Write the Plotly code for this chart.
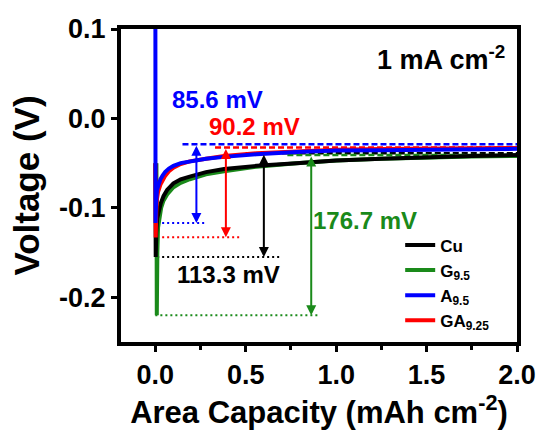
import plotly.graph_objects as go

# ---------------- data ----------------
cu_x = [0, 0.002, 0.005, 0.01, 0.018, 0.03, 0.045, 0.065, 0.1, 0.14, 0.19, 0.28, 0.38, 0.56, 0.78, 1.0, 1.25, 1.5, 1.75, 2.0]
cu_y = [-0.05, -0.155, -0.128, -0.112, -0.103, -0.095, -0.087, -0.080, -0.0726, -0.068, -0.065, -0.060, -0.0566, -0.053, -0.050, -0.047, -0.045, -0.043, -0.042, -0.041]

g_x = [0.006, 0.008, 0.011, 0.015, 0.022, 0.032, 0.045, 0.065, 0.1, 0.14, 0.19, 0.28, 0.38, 0.56, 0.78, 1.0, 1.25, 1.5, 1.75, 2.0]
g_y = [-0.05, -0.220, -0.150, -0.122, -0.109, -0.100, -0.092, -0.085, -0.077, -0.072, -0.068, -0.0625, -0.059, -0.054, -0.050, -0.047, -0.045, -0.0435, -0.0425, -0.042]

ga_x = [0, 0.002, 0.005, 0.009, 0.015, 0.028, 0.04, 0.055, 0.075, 0.1, 0.14, 0.19, 0.28, 0.38, 0.56, 0.78, 1.0, 1.25, 1.5, 1.75, 2.0]
ga_y = [-0.05, -0.133, -0.105, -0.090, -0.082, -0.074, -0.069, -0.064, -0.059, -0.055, -0.051, -0.048, -0.045, -0.042, -0.039, -0.0365, -0.035, -0.0343, -0.0337, -0.0333, -0.033]

a_x = [0, 0.001, 0.004, 0.009, 0.018, 0.028, 0.04, 0.055, 0.075, 0.1, 0.14, 0.19, 0.28, 0.38, 0.56, 0.78, 1.0, 1.25, 1.5, 1.75, 2.0]
a_y = [0.15, -0.117, -0.095, -0.080, -0.073, -0.068, -0.064, -0.0596, -0.056, -0.053, -0.050, -0.048, -0.045, -0.043, -0.040, -0.0375, -0.036, -0.0355, -0.035, -0.0345, -0.034]

series_names = ["Cu", "G<sub>9.5</sub>", "A<sub>9.5</sub>", "GA<sub>9.25</sub>"]
series_colors = ["#000000", "#1a8a1a", "#0000ff", "#ff0000"]

# overpotential markers (order: Cu, G9.5, A9.5, GA9.25)
plateau_v = [-0.039, -0.041, -0.029, -0.0325]
nucleation_v = [-0.155, -0.220, -0.117, -0.133]
dash_start_x = [0.50, 0.73, 0.15, 0.33]
dash_end_x = [2.0, 2.0, 2.0, 2.0]
dot_start_x = [0.01, 0.0, 0.01, 0.01]
dot_end_x = [0.69, 0.90, 0.285, 0.47]
arrow_x = [0.60, 0.862, 0.227, 0.39]
overpotential_labels = ["113.3 mV", "176.7 mV", "85.6 mV", "90.2 mV"]
label_x = [0.403, 1.16, 0.343, 0.547]
label_y = [-0.175, -0.1137, 0.0207, -0.0095]

x_tickvals = [0.0, 0.5, 1.0, 1.5, 2.0]
x_ticktext = ["0.0", "0.5", "1.0", "1.5", "2.0"]
y_tickvals = [0.1, 0.0, -0.1, -0.2]
y_ticktext = ["0.1", "0.0", "-0.1", "-0.2"]

FONT = "Liberation Sans, Arial, sans-serif"

fig = go.Figure()

# reference dashed / dotted lines
for i in range(4):
    fig.add_trace(go.Scatter(x=[dash_start_x[i], dash_end_x[i]], y=[plateau_v[i], plateau_v[i]],
                             mode="lines", line=dict(color=series_colors[i], width=2.5, dash="6px,3px"),
                             showlegend=False, hoverinfo="skip"))
    fig.add_trace(go.Scatter(x=[dot_start_x[i], dot_end_x[i]], y=[nucleation_v[i], nucleation_v[i]],
                             mode="lines", line=dict(color=series_colors[i], width=2, dash="2px,3px"),
                             showlegend=False, hoverinfo="skip"))

curves = [(g_x, g_y, 1), (cu_x, cu_y, 0), (ga_x, ga_y, 3), (a_x, a_y, 2)]
for xs, ys, i in curves:
    fig.add_trace(go.Scatter(x=xs, y=ys, mode="lines", name=series_names[i],
                             line=dict(color=series_colors[i], width=4),
                             legendrank=i + 1))

for i in range(4):
    fig.add_annotation(x=arrow_x[i], y=nucleation_v[i], ax=arrow_x[i], ay=plateau_v[i],
                       xref="x", yref="y", axref="x", ayref="y", text="",
                       showarrow=True, arrowhead=2, startarrowhead=2, arrowside="end+start",
                       arrowsize=1, startarrowsize=1, arrowwidth=2, arrowcolor=series_colors[i])
    fig.add_annotation(x=label_x[i], y=label_y[i], xref="x", yref="y", text=overpotential_labels[i],
                       showarrow=False, font=dict(family=FONT, size=24, color=series_colors[i], weight="bold"))

fig.add_annotation(x=0.975, y=0.907, xref="paper", yref="paper", xanchor="right", yanchor="middle",
                   text="1 mA cm<sup>-2</sup>", showarrow=False,
                   font=dict(family=FONT, size=27, color="black", weight="bold"))

axis_common = dict(showline=True, linewidth=4, linecolor="black", mirror=True, showgrid=False,
                   zeroline=False, ticks="outside", ticklen=6, tickwidth=3, tickcolor="black",
                   automargin=False,
                   tickfont=dict(family=FONT, size=27, color="black", weight="bold"))

fig.update_xaxes(range=[-0.19, 2.0], tickvals=x_tickvals, ticktext=x_ticktext,
                 minor=dict(tickvals=[0.25, 0.75, 1.25, 1.75], ticks="outside", ticklen=4, tickwidth=3, tickcolor="black"),
                 title=dict(text="Area Capacity (mAh cm<sup>-2</sup>)", standoff=12,
                            font=dict(family=FONT, size=31, color="black", weight="bold")),
                 **axis_common)
fig.update_yaxes(range=[-0.25, 0.1], tickvals=y_tickvals, ticktext=y_ticktext,
                 title=dict(text="Voltage (V)", standoff=10,
                            font=dict(family=FONT, size=35, color="black", weight="bold")),
                 **axis_common)

fig.update_layout(
    width=541, height=430,
    margin=dict(l=121, r=24, t=29, b=88),
    paper_bgcolor="white", plot_bgcolor="white",
    font=dict(family=FONT, color="black"),
    legend=dict(x=0.705, y=0.366, xanchor="left", yanchor="top", bgcolor="rgba(0,0,0,0)",
                font=dict(family=FONT, size=17, color="black", weight="bold"),
                tracegroupgap=0, itemwidth=30),
)

fig.write_html("out.html")
